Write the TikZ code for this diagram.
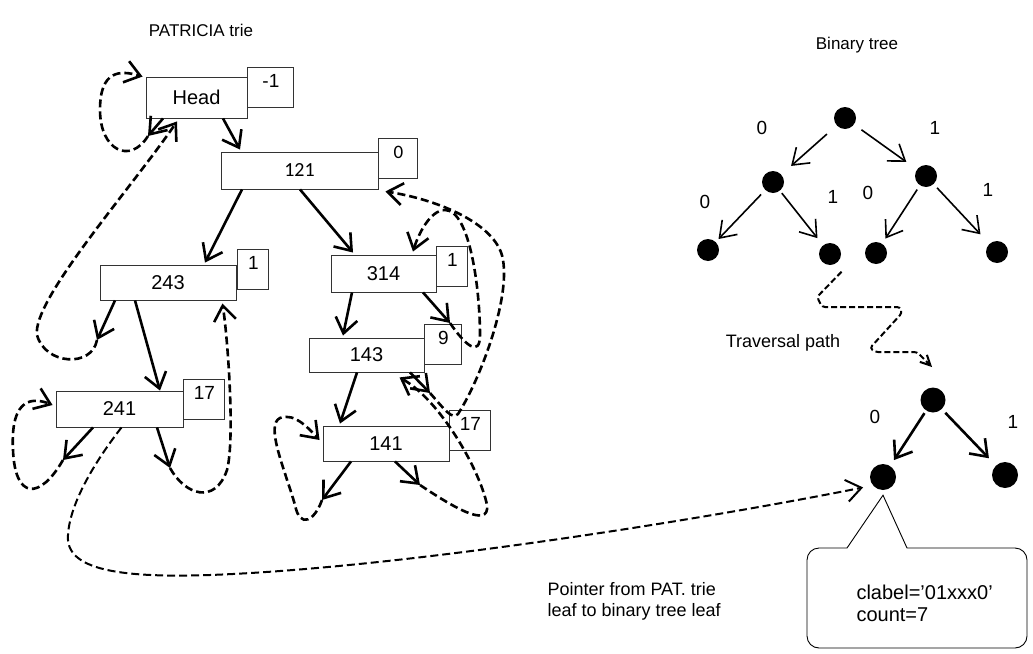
\documentclass[tikz,border=0pt]{standalone}
\usepackage{fontspec}
\setmainfont{Liberation Sans}
\newfontfamily\numfont{Carlito}
\usetikzlibrary{arrows.meta,positioning}

\begin{document}
\begin{tikzpicture}
[x=1pt, y=-1pt, black, text=black,
 trie node/.style = {rectangle, draw=black!80, line width=0.9pt, inner sep=0pt,
                     font=\fontsize{20}{24}\selectfont},
 skip tag/.style = {rectangle, draw=black!80, line width=0.9pt, anchor=north west,
                    minimum width=#1, inner xsep=0pt, inner ysep=4pt, text height=16pt,
                    text depth=16pt, font=\fontsize{19}{22}\selectfont},
 child/.style = {line width=2.6pt, -{Straight Barb[length=15pt,width=22pt]}},
 back link/.style = {child, dash pattern=on 8pt off 4pt},
 bit node/.style = {circle, fill=black, inner sep=0pt, minimum size=#1},
 bit edge/.style = {line width=1.6pt, -{Straight Barb[length=15pt,width=21pt]},
                    shorten <=5pt, shorten >=8pt},
 bit label/.style = {font=\fontsize{19}{22}\selectfont},
 caption/.style = {font=\fontsize{17}{21}\selectfont, align=left}]
\useasboundingbox (0,0) rectangle (1033,653);

% PATRICIA trie
\node[caption] (trietitle) at (201,30) {PATRICIA trie};
\node[trie node, minimum width=101pt, minimum height=41pt] (head) at (196.5,97.5) {Head};
\node[trie node, minimum width=157pt, minimum height=37pt, font=\fontsize{20}{24}\numfont] (n121) at (299.5,170.5) {121};
\node[trie node, minimum width=136pt, minimum height=35pt] (n243) at (168,282.5) {243};
\node[trie node, minimum width=105pt, minimum height=37pt] (n314) at (383.5,273.5) {314};
\node[trie node, minimum width=127pt, minimum height=36pt] (n241) at (119.5,409) {241};
\node[trie node, minimum width=115pt, minimum height=34pt] (n143) at (366.5,355) {143};
\node[trie node, minimum width=126pt, minimum height=35pt] (n141) at (386,443.5) {141};

\node[skip tag=46pt] (headtag) at ([yshift=10pt]head.north east) {-1};
\node[skip tag=39pt, font=\fontsize{19}{22}\numfont] (tag121) at ([yshift=14pt]n121.north east) {0};
\node[skip tag=31pt] (tag243) at ([xshift=1pt,yshift=16pt]n243.north east) {1};
\node[skip tag=31pt] (tag314) at ([yshift=9pt]n314.north east) {1};
\node[skip tag=41pt] (tag241) at ([yshift=12pt]n241.north east) {17};
\node[skip tag=37pt] (tag143) at ([yshift=14pt]n143.north east) {9};
\node[skip tag=41pt] (tag141) at ([yshift=16pt]n141.north east) {17};

\coordinate (headL) at (148,136);
\coordinate (n243L) at (97,340);
\coordinate (n241L) at (63,460);
\coordinate (n241R) at (170,468);
\coordinate (n314R) at (450,323);
\coordinate (n143R) at (430,393);
\coordinate (n141L) at (322,500);
\coordinate (n141R) at (420,485);

\draw[child] ([xshift=-33.5pt]head.south) -- (headL);
\draw[child] ([xshift=26.5pt]head.south) -- ([xshift=-59.5pt,yshift=2pt]n121.north);
\draw[child] ([xshift=-57.5pt]n121.south) -- ([xshift=37pt,yshift=2pt]n243.north);
\draw[child] ([xshift=0.5pt]n121.south) -- ([xshift=-30.5pt,yshift=2pt]n314.north);
\draw[child] ([xshift=-53pt]n243.south) -- (n243L);
\draw[child] ([xshift=-33pt]n243.south) -- ([xshift=40.5pt]n241.north);
\draw[child] ([xshift=-26.5pt]n241.south) -- (n241L);
\draw[child] ([xshift=37.5pt]n241.south) -- (n241R);
\draw[child] ([xshift=-31.5pt]n314.south) -- ([xshift=-23.5pt,yshift=2pt]n143.north);
\draw[child] ([xshift=39.5pt]n314.south) -- (n314R);
\draw[child] ([xshift=-9.5pt]n143.south) -- ([xshift=-46pt,yshift=2pt]n141.north);
\draw[child] ([xshift=43.5pt]n143.south) -- (n143R);
\draw[child] ([xshift=-35pt]n141.south) -- (n141L);
\draw[child] ([xshift=9pt]n141.south) -- (n141R);

% back pointers
\draw[back link] (headL) .. controls (130,165) and (100,150) .. (100,110)
  .. controls (100,70) and (120,70) .. ([xshift=-3pt]head.north west);
\draw[back link] (n243L) .. controls (92,368) and (45,365) .. (37,335)
  .. controls (32,300) and (130,190) .. ([xshift=-19.5pt,yshift=-3pt]head.south);
\draw[back link] (n241L) .. controls (40,500) and (15,500) .. (13,450)
  .. controls (10,395) and (35,398) .. ([xshift=-3pt,yshift=4pt]n241.west);
\draw[back link] (n241R) .. controls (185,495) and (215,505) .. (227,470)
  .. controls (235,440) and (228,340) .. ([xshift=-14pt,yshift=-3pt]n243.south east);
\draw[back link] (n314R) .. controls (465,345) and (480,358) .. (480,335)
  .. controls (480,290) and (470,210) .. (445,210)
  .. controls (430,210) and (418,235) .. ([xshift=29.5pt,yshift=3pt]n314.north);
\draw[back link] (n143R) .. controls (445,410) and (452,420) .. (458,414)
  .. controls (480,380) and (510,300) .. (503,260)
  .. controls (498,225) and (440,200) .. ([xshift=7pt,yshift=-2pt]n121.south east);
\draw[back link] (n141L) .. controls (315,520) and (300,530) .. (295,505)
  .. controls (285,470) and (265,425) .. (280,418)
  .. controls (295,412) and (310,430) .. ([xshift=-3pt,yshift=3.5pt]n141.west);
\draw[back link] (n141R) .. controls (450,505) and (490,530) .. (487,505)
  .. controls (480,470) and (440,400) .. ([xshift=33pt,yshift=-5pt]n143.south);

% Binary tree
\node[caption] (bintitle) at (857,45) {Binary tree};
\node[bit node=22pt] (troot) at (845,118) {};
\node[bit node=22pt] (t0) at (773,182) {};
\node[bit node=22pt] (t1) at (926,176) {};
\node[bit node=22pt] (t00) at (708,250) {};
\node[bit node=22pt] (t01) at (830,254) {};
\node[bit node=22pt] (t10) at (876,253) {};
\node[bit node=22pt] (t11) at (997,252) {};

\draw[bit edge, shorten <=13pt, shorten >=13pt] (troot) -- (t0);
\draw[bit edge, shorten <=9pt, shorten >=13pt] (troot) -- (t1);
\draw[bit edge, shorten <=6pt, shorten >=4pt] (t0) -- (t00);
\draw[bit edge, shorten <=3pt, shorten >=9pt] (t0) -- (t01);
\draw[bit edge, shorten <=5pt, shorten >=6pt] (t1) -- (t10);
\draw[bit edge, shorten <=5pt, shorten >=13pt] (t1) -- (t11);

\node[bit label] (lab0) at (762,128) {0};
\node[bit label] (lab1) at (935,128) {1};
\node[bit label] (lab00) at (705,202) {0};
\node[bit label] (lab01) at (833,197) {1};
\node[bit label] (lab10) at (868,193) {0};
\node[bit label] (lab11) at (988,190) {1};

\coordinate (travend) at (932,367);
\draw[line width=2pt, dash pattern=on 6pt off 3pt, rounded corners=3pt,
      -{Straight Barb[length=10pt,width=10pt]}]
  ([shift={(6pt,-8pt)}]t01.-60) -- (817,297) -- (822,307) -- (900,307) -- (902,313)
  -- (870,348) -- (875,352) -- (917,352) -- (travend);
\node[caption, font=\fontsize{18}{21}\selectfont] (travtext) at (783,343) {Traversal path};

\node[bit node=25pt] (sroot) at (933,400) {};
\node[bit node=26pt] (s0) at (883,477) {};
\node[bit node=26pt] (s1) at (1005,475) {};
\draw[child, shorten <=3pt, shorten >=7pt] (sroot) -- (s0);
\draw[child, shorten <=5pt, shorten >=10pt] (sroot) -- (s1);
\node[bit label] (slab0) at (875,417) {0};
\node[bit label] (slab1) at (1013,422) {1};

% pointer from the trie leaf to the tree leaf
\draw[back link, line width=2pt, shorten >=10pt] ([xshift=2pt]n241.south)
  .. controls (100,455) and (70,500) .. (68,535)
  .. controls (65,570) and (120,578) .. (210,575)
  .. controls (400,568) and (700,520) .. (s0.220);
\node[caption, anchor=north west, font=\fontsize{18}{21}\selectfont] (ptrtext) at (544,579)
  {Pointer from PAT. trie\\leaf to binary tree leaf};

\draw[line width=0.9pt] ([yshift=-5pt]s0.south) -- (907,548) [rounded corners=12pt]
  -- (1027,548) -- (1027,648) -- (807,648) -- (807,548) [sharp corners] -- (847,548) -- cycle;
\node[anchor=north west, align=left, font=\fontsize{20}{22}\selectfont] (leafinfo) at (853,581)
  {clabel='01xxx0'\\count=7};
\end{tikzpicture}
\end{document}
